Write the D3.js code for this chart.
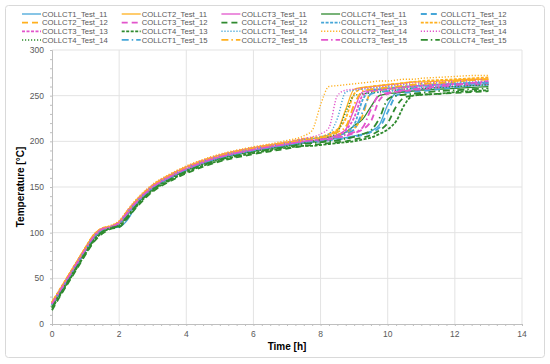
<!DOCTYPE html>
<html>
<head>
<meta charset="utf-8">
<script src="https://cdn.jsdelivr.net/npm/d3@7"></script>
<style>
  body { margin: 0; background: #fff; }
  text { font-family: "Liberation Sans", Arial, sans-serif; }
</style>
</head>
<body>
<div class="chart"></div>
<script>
// time grid [h], shared by every test run
const time = [0, 0.25, 0.5, 0.75, 1, 1.25, 1.5, 1.75, 2, 2.25, 2.5, 3, 3.5, 4, 5, 6, 7, 7.5,
              7.75, 8, 8.25, 8.5, 8.75, 9, 9.25, 9.5, 9.75, 10, 10.25, 10.5, 10.75, 11, 11.5, 12, 12.5, 13];

const seriesNames = [
  "COLLCT1_Test_11", "COLLCT2_Test_11", "COLLCT3_Test_11", "COLLCT4_Test_11", "COLLCT1_Test_12",
  "COLLCT2_Test_12", "COLLCT3_Test_12", "COLLCT4_Test_12", "COLLCT1_Test_13", "COLLCT2_Test_13",
  "COLLCT3_Test_13", "COLLCT4_Test_13", "COLLCT1_Test_14", "COLLCT2_Test_14", "COLLCT3_Test_14",
  "COLLCT4_Test_14", "COLLCT1_Test_15", "COLLCT2_Test_15", "COLLCT3_Test_15", "COLLCT4_Test_15"
];

// temperature [°C] per series, same order as seriesNames
const temps = [
  [21,35,50,65,80,94,102,105,106,114,129,148,160,169,182,190,196,199, 200,201,202,203,204,206,208,211,218,240,253,255,256,257,259,260,261,262],
  [24,38,54,69,84,98,105,107,112,124,135,152,163,172,185,193,199,202, 203,204,207,212,235,257,259,260,261,262,263,264,265,265,266,267,268,268],
  [22,37,52,67,82,96,104,106,111,122,133,150,161,170,183,191,197,200, 201,202,204,207,213,235,254,256,257,258,259,260,261,261,262,263,264,265],
  [20,35,50,65,80,94,102,106,109,120,131,148,159,168,181,189,195,198, 199,200,202,205,210,217,224,238,250,252,253,254,255,256,257,258,259,260],
  [21,36,51,66,81,95,103,106,110,121,132,149,160,169,182,190,196,198, 199,200,201,202,203,205,207,210,215,232,250,253,254,255,257,259,261,262],
  [23,38,53,68,83,97,104,107,111,123,134,151,162,171,184,192,198,201, 202,203,205,207,210,214,228,254,256,257,258,259,260,261,263,265,267,268],
  [22,36,51,66,81,95,103,106,110,121,132,149,160,169,182,190,196,199, 200,201,202,204,206,209,213,222,245,252,254,255,256,257,259,261,262,263],
  [15,31,46,61,76,90,99,104,106,116,127,145,156,165,178,186,192,195, 196,197,198,199,200,202,204,207,212,220,238,248,250,251,252,253,254,255],
  [21,36,51,66,81,95,103,106,110,121,132,149,160,169,182,190,196,199, 200,202,204,206,210,218,245,256,257,258,259,260,260,261,262,263,264,264],
  [24,39,54,69,84,98,105,107,112,124,135,152,163,172,185,193,199,203, 204,205,208,213,225,252,258,260,261,262,263,264,265,266,267,268,269,270],
  [22,37,52,67,82,96,104,106,111,122,133,150,161,170,183,191,197,200, 201,202,204,207,212,226,250,255,256,257,258,259,260,261,262,263,263,264],
  [17,32,47,62,77,91,100,105,107,117,128,146,157,166,179,187,193,195, 195,196,197,198,199,200,202,204,208,213,222,240,250,251,252,254,255,256],
  [23,38,53,68,83,97,104,107,111,123,134,151,162,171,184,192,198,202, 203,205,208,225,254,256,257,258,259,260,261,262,262,263,264,265,265,266],
  [24,39,54,69,84,98,105,108,113,125,136,153,164,173,186,194,201,206, 212,240,260,261,262,263,264,265,266,266,267,268,268,269,270,271,272,272],
  [23,38,53,68,83,97,104,107,112,124,135,152,163,172,185,193,199,203, 205,208,215,250,256,257,258,259,260,261,262,263,264,264,265,266,267,268],
  [19,34,49,64,79,93,101,105,108,119,130,148,159,168,181,189,195,198, 200,202,205,210,232,250,252,253,254,255,256,257,258,258,259,260,261,262],
  [21,36,51,66,81,95,103,106,110,121,132,149,160,169,182,190,196,199, 200,201,203,205,208,213,232,252,254,255,256,257,258,259,260,262,263,264],
  [23,38,53,68,83,97,104,107,111,123,134,151,162,171,184,192,198,201, 202,204,206,210,216,240,255,257,258,259,260,261,262,263,264,266,267,268],
  [22,37,52,67,82,96,104,106,111,122,133,150,161,170,183,191,197,200, 201,202,203,205,207,210,215,235,251,253,255,256,257,258,260,262,264,266],
  [18,33,48,63,78,92,101,105,108,118,129,147,158,167,180,188,194,197, 198,199,200,201,203,205,208,212,225,246,250,251,252,253,255,256,257,258]
];

const xTicks = [0, 2, 4, 6, 8, 10, 12, 14];
const yTicks = [0, 50, 100, 150, 200, 250, 300];

// collector -> colour, test -> line style
const colors = ["#46a6d8", "#ffb01e", "#e255cc", "#2f8a2f"];
const dashes = ["none", "6,4", "3,1.5", "1.2,1.8", "7,3,1.5,3"];
const widths = [1.3, 1.8, 1.8, 1.4, 1.8];

const width = 550;
const height = 364;
const svg = d3.select('.chart')
  .append('svg')
  .attr('width', width)
  .attr('height', height);

// outer frame
svg.append("rect")
  .attr("x", 5.5).attr("y", 5.5)
  .attr("width", 539).attr("height", 352)
  .attr("rx", 3)
  .attr("fill", "none")
  .attr("stroke", "#d9d9d9");

const x = d3.scaleLinear().domain([0, 14]).range([52, 522]);
const y = d3.scaleLinear().domain([0, 300]).range([324, 50]);

// grid
svg.selectAll("line.vgrid")
  .data(xTicks.slice(1))
  .enter()
  .append("line")
  .attr("x1", d => x(d)).attr("x2", d => x(d))
  .attr("y1", y(0)).attr("y2", y(300))
  .attr("stroke", "#e3e3e3");

svg.selectAll("line.hgrid")
  .data(yTicks.slice(1))
  .enter()
  .append("line")
  .attr("x1", x(0)).attr("x2", x(14))
  .attr("y1", d => y(d)).attr("y2", d => y(d))
  .attr("stroke", "#e3e3e3");

// axes
const xAxis = svg.append("g")
  .attr("transform", `translate(0,${y(0)})`)
  .call(d3.axisBottom(x).tickValues(d3.range(0, 14.01, 0.25)).tickSize(2).tickFormat(""));
xAxis.select(".domain").attr("stroke", "#bfbfbf");
xAxis.selectAll(".tick line").attr("stroke", "#bfbfbf");

const yAxis = svg.append("g")
  .attr("transform", `translate(${x(0)},0)`)
  .call(d3.axisLeft(y).tickValues(d3.range(0, 301, 10)).tickSize(2).tickFormat(""));
yAxis.select(".domain").attr("stroke", "#bfbfbf");
yAxis.selectAll(".tick line").attr("stroke", "#bfbfbf");

svg.selectAll("text.xlab")
  .data(xTicks)
  .enter()
  .append("text")
  .text(d => d)
  .attr("x", d => x(d))
  .attr("y", 337)
  .attr("text-anchor", "middle")
  .attr("font-size", 8.5)
  .attr("fill", "#595959");

svg.selectAll("text.ylab")
  .data(yTicks)
  .enter()
  .append("text")
  .text(d => d)
  .attr("x", 44)
  .attr("y", d => y(d) + 3)
  .attr("text-anchor", "end")
  .attr("font-size", 8.5)
  .attr("fill", "#595959");

svg.append("text")
  .text("Time [h]")
  .attr("x", x(7))
  .attr("y", 350)
  .attr("text-anchor", "middle")
  .attr("font-size", 10)
  .attr("font-weight", "bold");

svg.append("text")
  .text("Temperature [°C]")
  .attr("transform", `translate(24,${y(150)}) rotate(-90)`)
  .attr("text-anchor", "middle")
  .attr("font-size", 10)
  .attr("font-weight", "bold");

// lines
const line = d3.line()
  .x((d, i) => x(time[i]))
  .y(d => y(d))
  .curve(d3.curveMonotoneX);

svg.selectAll("path.run")
  .data(temps)
  .enter()
  .append("path")
  .attr("d", d => line(d))
  .attr("fill", "none")
  .attr("stroke", (d, i) => colors[i % 4])
  .attr("stroke-width", (d, i) => widths[Math.floor(i / 4)])
  .attr("stroke-dasharray", (d, i) => dashes[Math.floor(i / 4)]);

// legend, 5 columns x 4 rows
const leg = svg.selectAll("g.leg")
  .data(seriesNames)
  .enter()
  .append("g")
  .attr("transform", (d, i) => `translate(${22 + (i % 5) * 99.7},${14 + Math.floor(i / 5) * 8.65})`);

leg.append("line")
  .attr("x1", 0).attr("x2", 19)
  .attr("stroke", (d, i) => colors[i % 4])
  .attr("stroke-width", (d, i) => widths[Math.floor(i / 4)])
  .attr("stroke-dasharray", (d, i) => dashes[Math.floor(i / 4)]);

leg.append("text")
  .text(d => d)
  .attr("x", 20)
  .attr("y", 2.8)
  .attr("font-size", 7.7)
  .attr("fill", "#595959");
</script>
</body>
</html>
